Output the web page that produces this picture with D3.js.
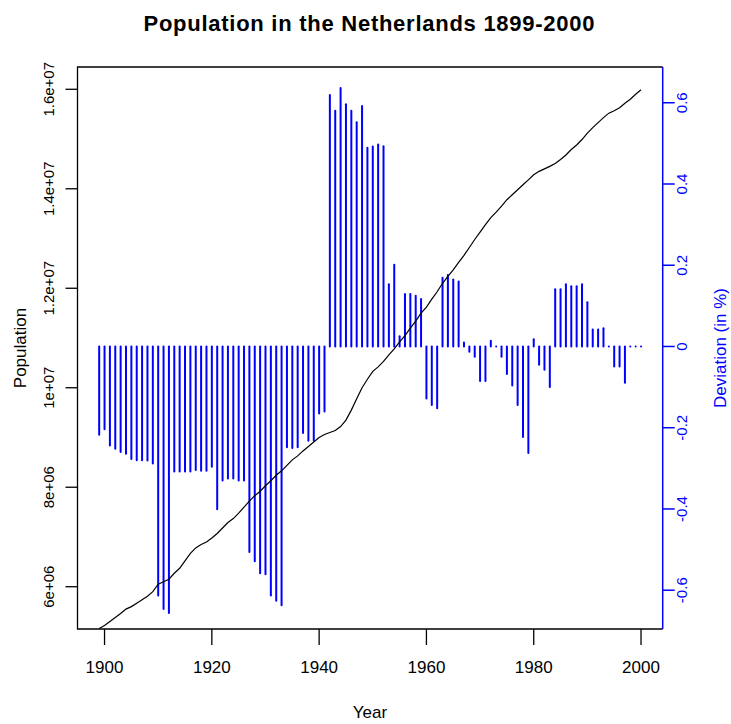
<!DOCTYPE html>
<html lang="en">
<head>
<meta charset="utf-8">
<style>
    html, body { margin:0; padding:0; background:#fff; overflow:hidden }
    svg { display:block }
    text { font-family: "Liberation Sans", Arial, sans-serif; }
</style>
</head>
<body>
<svg width="731" height="724"></svg>

<script src="https://d3js.org/d3.v7.min.js"></script>
<script>
    // years 1899-2000
    var years = [
        1899,1900,1901,1902,1903,1904,1905,1906,1907,1908,
        1909,1910,1911,1912,1913,1914,1915,1916,1917,1918,
        1919,1920,1921,1922,1923,1924,1925,1926,1927,1928,
        1929,1930,1931,1932,1933,1934,1935,1936,1937,1938,
        1939,1940,1941,1942,1943,1944,1945,1946,1947,1948,
        1949,1950,1951,1952,1953,1954,1955,1956,1957,1958,
        1959,1960,1961,1962,1963,1964,1965,1966,1967,1968,
        1969,1970,1971,1972,1973,1974,1975,1976,1977,1978,
        1979,1980,1981,1982,1983,1984,1985,1986,1987,1988,
        1989,1990,1991,1992,1993,1994,1995,1996,1997,1998,
        1999,2000];

    // population, millions
    var population = [
        5.16,5.22,5.30,5.38,5.46,5.55,5.60,5.67,5.74,5.81,
        5.90,6.05,6.10,6.15,6.27,6.37,6.52,6.67,6.78,6.85,
        6.90,6.98,7.07,7.18,7.29,7.37,7.48,7.60,7.72,7.83,
        7.92,8.03,8.13,8.24,8.33,8.44,8.55,8.63,8.73,8.82,
        8.91,9.00,9.06,9.10,9.14,9.22,9.35,9.55,9.78,10.00,
        10.17,10.33,10.42,10.53,10.66,10.78,10.92,11.05,11.20,11.34,
        11.50,11.62,11.78,11.93,12.10,12.24,12.37,12.52,12.66,12.82,
        12.98,13.13,13.28,13.42,13.53,13.65,13.78,13.88,13.98,14.08,
        14.18,14.28,14.35,14.40,14.45,14.51,14.59,14.68,14.79,14.88,
        14.99,15.12,15.23,15.33,15.43,15.52,15.57,15.63,15.72,15.80,
        15.90,15.99];

    // deviation (in %)
    var deviation = [
        -0.217,-0.204,-0.244,-0.252,-0.260,-0.264,-0.277,-0.280,-0.280,-0.281,
        -0.288,-0.613,-0.646,-0.656,-0.308,-0.308,-0.308,-0.308,-0.304,-0.306,
        -0.306,-0.296,-0.401,-0.330,-0.325,-0.325,-0.330,-0.330,-0.506,-0.529,
        -0.558,-0.561,-0.613,-0.626,-0.637,-0.248,-0.250,-0.248,-0.213,-0.232,
        -0.232,-0.165,-0.160,0.619,0.580,0.636,0.596,0.580,0.552,0.592,
        0.489,0.492,0.497,0.493,0.153,0.201,0.025,0.129,0.129,0.125,
        0.117,-0.128,-0.144,-0.152,0.169,0.176,0.165,0.160,0.010,-0.013,
        -0.025,-0.085,-0.085,0.014,0.000,-0.025,-0.068,-0.096,-0.144,-0.223,
        -0.262,0.018,-0.045,-0.057,-0.100,0.141,0.141,0.153,0.148,0.148,
        0.153,0.109,0.042,0.042,0.045,0.000,-0.049,-0.049,-0.089,0.000,
        0.000,0.000];

    var yearTicks = [1900, 1920, 1940, 1960, 1980, 2000];
    var popTicks = [6e6, 8e6, 1e7, 1.2e7, 1.4e7, 1.6e7];
    var popTickLabels = ["6e+06", "8e+06", "1e+07", "1.2e+07", "1.4e+07", "1.6e+07"];
    var devTicks = [-0.6, -0.4, -0.2, 0, 0.2, 0.4, 0.6];
    var devTickLabels = ["-0.6", "-0.4", "-0.2", "0", "0.2", "0.4", "0.6"];

    var svg = d3.select("svg");

    // plot region (window.top is read-only, so no bare "top")
    var pLeft = 77.5, pRight = 662.7, pTop = 67, pBottom = 629;

    var x = d3.scaleLinear().domain([1894.96, 2004.04]).range([pLeft, pRight]);
    var yPop = d3.scaleLinear().domain([5.15e6, 16.448e6]).range([pBottom, pTop]);
    var yDev = d3.scaleLinear().domain([-0.6955, 0.688]).range([pBottom, pTop]);

    var rows = years.map(function (y, i) {
        return {year: y, pop: population[i] * 1e6, dev: deviation[i]};
    });

    // deviation bars (type = "h")
    svg.append("g")
        .selectAll("line")
        .data(rows)
        .enter()
        .append("line")
        .attr("x1", function (d) { return x(d.year); })
        .attr("x2", function (d) { return x(d.year); })
        .attr("y1", yDev(0))
        .attr("y2", function (d) { return yDev(d.dev); })
        .attr("stroke", "#0000ff")
        .attr("stroke-width", 2)
        .attr("stroke-linecap", "round");

    // population line
    var line = d3.line()
        .x(function (d) { return x(d.year); })
        .y(function (d) { return yPop(d.pop); });

    svg.append("path")
        .datum(rows)
        .attr("d", line)
        .attr("fill", "none")
        .attr("stroke", "#000")
        .attr("stroke-width", 1.2);

    // box: black on three sides, blue on the right
    svg.append("path")
        .attr("d", "M" + pRight + "," + pTop + "H" + pLeft + "V" + pBottom + "H" + pRight)
        .attr("fill", "none")
        .attr("stroke", "#000")
        .attr("stroke-width", 1.3);
    svg.append("line")
        .attr("x1", pRight).attr("x2", pRight)
        .attr("y1", pTop).attr("y2", pBottom)
        .attr("stroke", "#0000ff")
        .attr("stroke-width", 1.5);

    // bottom axis
    var xAxis = svg.append("g");
    xAxis.selectAll("line")
        .data(yearTicks)
        .enter()
        .append("line")
        .attr("x1", function (d) { return x(d); })
        .attr("x2", function (d) { return x(d); })
        .attr("y1", pBottom)
        .attr("y2", pBottom + 16)
        .attr("stroke", "#000")
        .attr("stroke-width", 1.3);
    xAxis.selectAll("text")
        .data(yearTicks)
        .enter()
        .append("text")
        .attr("x", function (d) { return x(d); })
        .attr("y", 673)
        .attr("text-anchor", "middle")
        .attr("font-size", 17)
        .attr("fill", "#000")
        .text(function (d) { return d; });

    // left axis (population)
    var yAxisL = svg.append("g");
    yAxisL.selectAll("line")
        .data(popTicks)
        .enter()
        .append("line")
        .attr("x1", pLeft)
        .attr("x2", pLeft - 12)
        .attr("y1", function (d) { return yPop(d); })
        .attr("y2", function (d) { return yPop(d); })
        .attr("stroke", "#000")
        .attr("stroke-width", 1.3);
    yAxisL.selectAll("text")
        .data(popTicks)
        .enter()
        .append("text")
        .attr("transform", function (d) { return "translate(54," + yPop(d) + ") rotate(-90)"; })
        .attr("text-anchor", "middle")
        .attr("font-size", 15)
        .attr("fill", "#000")
        .text(function (d, i) { return popTickLabels[i]; });

    // right axis (deviation)
    var yAxisR = svg.append("g");
    yAxisR.selectAll("line")
        .data(devTicks)
        .enter()
        .append("line")
        .attr("x1", pRight)
        .attr("x2", pRight + 12)
        .attr("y1", function (d) { return yDev(d); })
        .attr("y2", function (d) { return yDev(d); })
        .attr("stroke", "#0000ff")
        .attr("stroke-width", 1.5);
    yAxisR.selectAll("text")
        .data(devTicks)
        .enter()
        .append("text")
        .attr("transform", function (d) { return "translate(687," + yDev(d) + ") rotate(-90)"; })
        .attr("text-anchor", "middle")
        .attr("font-size", 15)
        .attr("fill", "#0000ff")
        .text(function (d, i) { return devTickLabels[i]; });

    // titles
    svg.append("text")
        .attr("x", 369)
        .attr("y", 31)
        .attr("text-anchor", "middle")
        .attr("font-size", 22)
        .attr("font-weight", "bold")
        .attr("textLength", 451)
        .attr("lengthAdjust", "spacing")
        .text("Population in the Netherlands 1899-2000");

    svg.append("text")
        .attr("x", 370)
        .attr("y", 718)
        .attr("text-anchor", "middle")
        .attr("font-size", 17)
        .text("Year");

    svg.append("text")
        .attr("transform", "translate(26,348) rotate(-90)")
        .attr("text-anchor", "middle")
        .attr("font-size", 17)
        .text("Population");

    svg.append("text")
        .attr("transform", "translate(726,348) rotate(-90)")
        .attr("text-anchor", "middle")
        .attr("font-size", 17)
        .attr("fill", "#0000ff")
        .text("Deviation (in %)");
</script>
</body>
</html>
